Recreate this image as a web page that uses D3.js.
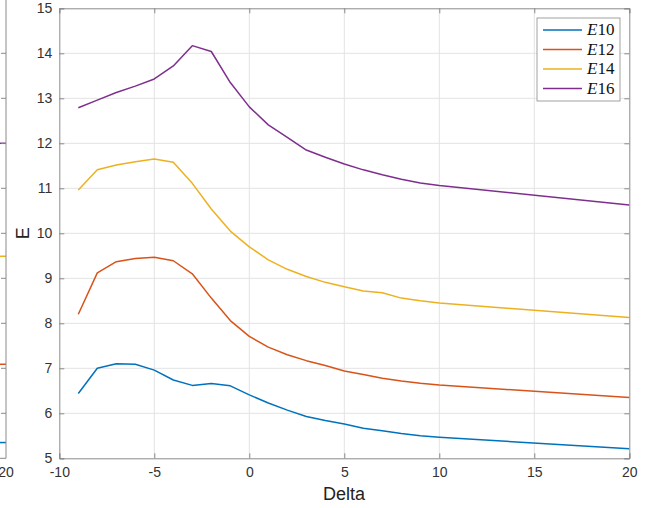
<!DOCTYPE html>
<html>
<head>
<meta charset="utf-8">
<script src="https://cdn.jsdelivr.net/npm/d3@7"></script>
<style>
  body { margin: 0; background: #fff; }
  svg { display: block; font-family: "Liberation Sans", Arial, sans-serif; }
</style>
</head>
<body>
<div id="chart"></div>
<script>
// x values (Delta)
const delta = [-9, -8, -7, -6, -5, -4, -3, -2, -1, 0, 1, 2, 3, 4, 5, 6, 7, 8, 9, 10, 20];

// series values
const e10 = [6.44, 7.00, 7.10, 7.09, 6.96, 6.74, 6.62, 6.66, 6.61, 6.41, 6.23, 6.07, 5.93, 5.84, 5.76, 5.67, 5.61, 5.55, 5.50, 5.47, 5.21];
const e12 = [8.20, 9.12, 9.37, 9.44, 9.47, 9.39, 9.10, 8.56, 8.06, 7.71, 7.47, 7.30, 7.17, 7.06, 6.94, 6.86, 6.78, 6.72, 6.67, 6.63, 6.35];
const e14 = [10.96, 11.41, 11.52, 11.59, 11.65, 11.58, 11.11, 10.54, 10.05, 9.70, 9.41, 9.20, 9.04, 8.91, 8.81, 8.72, 8.68, 8.56, 8.50, 8.45, 8.13];
const e16 = [12.79, 12.96, 13.13, 13.27, 13.43, 13.72, 14.17, 14.04, 13.35, 12.81, 12.41, 12.13, 11.85, 11.69, 11.54, 11.41, 11.30, 11.20, 11.12, 11.06, 10.63];

const seriesNames = ['E10', 'E12', 'E14', 'E16'];
const colors = ['#0072BD', '#D95319', '#EDB120', '#7E2F8E'];

const xTicks = [-10, -5, 0, 5, 10, 15, 20];
const yTicks = [5, 6, 7, 8, 9, 10, 11, 12, 13, 14, 15];

// right edge of the neighbouring plot (cut off at the left border)
const fragX = [19.6, 20];
const fragValues = [5.35, 7.09, 9.49, 12.0];

const W = 649, H = 508;
const plotL = 59.3, plotR = 629.3, plotT = 8.3, plotB = 458.3;

const svg = d3.select('#chart').append('svg')
  .attr('width', W)
  .attr('height', H);

const x = d3.scaleLinear().domain([-10, 20]).range([plotL, plotR]);
const y = d3.scaleLinear().domain([5, 15]).range([plotB, plotT]);

const axisColor = '#8a8a8a';
const gridColor = '#e3e3e3';
const textColor = '#333';
const tickLen = 5;

// neighbouring plot fragment
const xf = d3.scaleLinear().domain([-10, 20]).range([6 - (plotR - plotL), 6]);
const frag = svg.append('g');
fragValues.forEach((v, i) => {
  frag.append('path')
    .datum(fragX.map(d => [d, v]))
    .attr('fill', 'none')
    .attr('stroke', colors[i])
    .attr('stroke-width', 1.5)
    .attr('d', d3.line().x(d => xf(d[0])).y(d => y(d[1])));
});
frag.selectAll('line.ft')
  .data(yTicks.slice(1, -1))
  .enter().append('line')
  .attr('x1', 6).attr('x2', 6 - tickLen)
  .attr('y1', d => y(d)).attr('y2', d => y(d))
  .attr('stroke', axisColor);
frag.append('line')
  .attr('x1', 6).attr('x2', 6)
  .attr('y1', 0).attr('y2', plotB)
  .attr('stroke', axisColor);
frag.append('line')
  .attr('x1', 0).attr('x2', 6)
  .attr('y1', plotB).attr('y2', plotB)
  .attr('stroke', axisColor);
frag.append('text')
  .attr('x', xf(20)).attr('y', plotB + 19)
  .attr('text-anchor', 'middle')
  .attr('font-size', 14)
  .attr('fill', textColor)
  .text('20');

// grid
svg.append('g').selectAll('line')
  .data(xTicks.slice(1, -1))
  .enter().append('line')
  .attr('x1', d => x(d)).attr('x2', d => x(d))
  .attr('y1', plotT).attr('y2', plotB)
  .attr('stroke', gridColor);
svg.append('g').selectAll('line')
  .data(yTicks.slice(1, -1))
  .enter().append('line')
  .attr('x1', plotL).attr('x2', plotR)
  .attr('y1', d => y(d)).attr('y2', d => y(d))
  .attr('stroke', gridColor);

// series lines
const allSeries = [e10, e12, e14, e16];
const line = d3.line().x(d => x(d[0])).y(d => y(d[1]));
allSeries.forEach((vals, i) => {
  svg.append('path')
    .datum(delta.map((d, j) => [d, vals[j]]))
    .attr('fill', 'none')
    .attr('stroke', colors[i])
    .attr('stroke-width', 1.5)
    .attr('stroke-linejoin', 'round')
    .attr('d', line);
});

// axes with inward ticks on all four sides
const xAxisB = d3.axisBottom(x).tickValues(xTicks).tickSize(-tickLen).tickPadding(9).tickFormat(d3.format('d'));
const xAxisT = d3.axisTop(x).tickValues(xTicks).tickSize(-tickLen).tickFormat('');
const yAxisL = d3.axisLeft(y).tickValues(yTicks).tickSize(-tickLen).tickPadding(7).tickFormat(d3.format('d'));
const yAxisR = d3.axisRight(y).tickValues(yTicks).tickSize(-tickLen).tickFormat('');

function styleAxis(g) {
  g.select('.domain').attr('stroke', axisColor);
  g.selectAll('.tick line').attr('stroke', axisColor);
  g.selectAll('.tick text')
    .attr('fill', textColor)
    .attr('font-size', 14)
    .attr('font-family', '"Liberation Sans", Arial, sans-serif')
    .text(function () { return d3.select(this).text().replace('−', '-'); });
}

svg.append('g').attr('transform', `translate(0,${plotB})`).call(xAxisB).call(styleAxis);
svg.append('g').attr('transform', `translate(0,${plotT})`).call(xAxisT).call(styleAxis);
svg.append('g').attr('transform', `translate(${plotL},0)`).call(yAxisL).call(styleAxis);
svg.append('g').attr('transform', `translate(${plotR},0)`).call(yAxisR).call(styleAxis);

// axis labels
svg.append('text')
  .attr('x', 344).attr('y', 500)
  .attr('text-anchor', 'middle')
  .attr('font-size', 18)
  .attr('fill', '#222')
  .text('Delta');
svg.append('text')
  .attr('transform', `translate(29,${y(10)}) rotate(-90)`)
  .attr('text-anchor', 'middle')
  .attr('font-size', 18)
  .attr('fill', '#222')
  .text('E');

// legend
const lg = svg.append('g').attr('transform', 'translate(537,18)');
lg.append('rect')
  .attr('width', 83).attr('height', 83)
  .attr('fill', '#fff')
  .attr('stroke', axisColor)
  .attr('stroke-width', 0.8);
seriesNames.forEach((name, i) => {
  const yy = 12 + i * 19.5;
  lg.append('line')
    .attr('x1', 6).attr('x2', 45)
    .attr('y1', yy).attr('y2', yy)
    .attr('stroke', colors[i])
    .attr('stroke-width', 1.5);
  const t = lg.append('text')
    .attr('x', 50).attr('y', yy + 5)
    .attr('font-family', '"Liberation Serif", "DejaVu Serif", serif')
    .attr('font-size', 17)
    .attr('fill', '#111');
  t.append('tspan').attr('font-style', 'italic').text(name.slice(0, 1));
  t.append('tspan').text(name.slice(1));
});
</script>
</body>
</html>
